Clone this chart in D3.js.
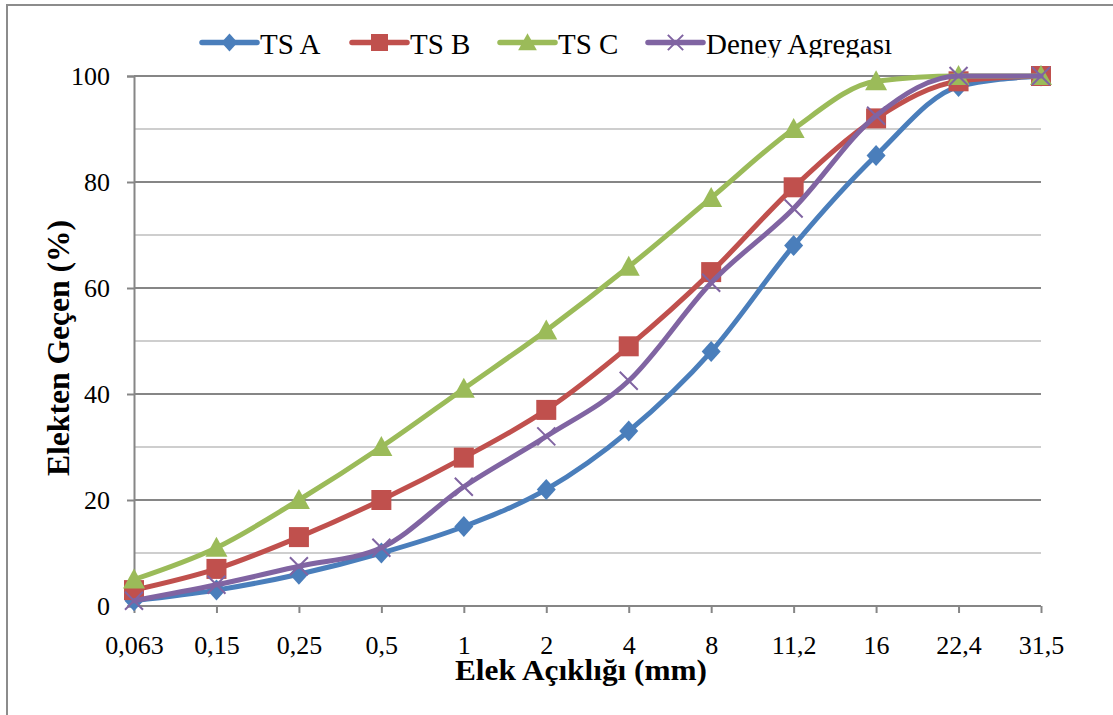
<!DOCTYPE html>
<html>
<head>
<meta charset="utf-8">
<script src="https://cdn.jsdelivr.net/npm/d3@7"></script>
<style>
  html, body { margin: 0; padding: 0; background: #fff; }
  svg { display: block; }
  text { font-family: "Liberation Serif", "Times New Roman", serif; fill: #000; }
</style>
</head>
<body>
<svg id="chart" width="1113" height="715"></svg>
<script>
// Sieve sizes (mm) and cumulative passing (%) per gradation curve
const categories = ["0,063", "0,15", "0,25", "0,5", "1", "2", "4", "8", "11,2", "16", "22,4", "31,5"];
const tsA   = [1, 3, 6, 10, 15, 22, 33, 48, 68, 85, 98, 100];
const tsB   = [3, 7, 13, 20, 28, 37, 49, 63, 79, 92, 99, 100];
const tsC   = [5, 11, 20, 30, 41, 52, 64, 77, 90, 99, 100, 100];
const deney = [1, 4, 7.5, 11, 22.5, 32, 42.5, 61, 75, 92.5, 100, 100];
const seriesNames = ["TS A", "TS B", "TS C", "Deney Agregası"];
const yTicks = [0, 20, 40, 60, 80, 100];
const yMinor = [10, 30, 50, 70, 90];

const SERIF = "'Liberation Serif', 'Times New Roman', serif";
const svg = d3.select("#chart");
const W = 1113, H = 715;
const plot = { left: 134, right: 1041, top: 76, bottom: 606 };

const colors = ["#4A7EBB", "#C0504D", "#9BBB59", "#8064A2"];
const markers = ["diamond", "square", "triangle", "cross"];
const values = [tsA, tsB, tsC, deney];

const x = d3.scalePoint().domain(categories).range([plot.left, plot.right]).padding(0);
const y = d3.scaleLinear().domain([0, 100]).range([plot.bottom, plot.top]);

// chart frame (right and bottom edges fall outside the canvas)
svg.append("rect").attr("x", 7).attr("y", 5).attr("width", W + 20).attr("height", H + 20)
  .attr("fill", "#fff").attr("stroke", "#8c8c8c").attr("stroke-width", 2);

// minor gridlines
svg.append("g").selectAll("line").data(yMinor).join("line")
  .attr("x1", plot.left).attr("x2", plot.right)
  .attr("y1", d => y(d)).attr("y2", d => y(d))
  .attr("stroke", "#bebebe").attr("stroke-width", 1.6);

// major gridlines
svg.append("g").selectAll("line").data(yTicks.filter(d => d > 0)).join("line")
  .attr("x1", plot.left).attr("x2", plot.right)
  .attr("y1", d => y(d)).attr("y2", d => y(d))
  .attr("stroke", "#868686").attr("stroke-width", 1.8);

// y axis
const yAxis = d3.axisLeft(y).tickValues(yTicks).tickSize(7).tickPadding(17).tickFormat(d3.format("d"));
const gy = svg.append("g").attr("transform", `translate(${plot.left},0)`).call(yAxis);
gy.attr("font-family", SERIF);
gy.select(".domain").attr("stroke", "#868686").attr("stroke-width", 2);
gy.selectAll(".tick line").attr("stroke", "#868686").attr("stroke-width", 2);
gy.selectAll(".tick text").attr("font-size", 26).attr("font-family", SERIF).attr("fill", "#000");

// x axis
const xAxis = d3.axisBottom(x).tickSize(7).tickPadding(23);
const gx = svg.append("g").attr("transform", `translate(0,${plot.bottom})`).call(xAxis);
gx.attr("font-family", SERIF);
gx.select(".domain").attr("stroke", "#868686").attr("stroke-width", 2)
  .attr("d", `M${plot.left},0H${plot.right}`);
gx.selectAll(".tick line").attr("stroke", "#868686").attr("stroke-width", 2);
gx.selectAll(".tick text").attr("font-size", 26).attr("font-family", SERIF).attr("fill", "#000");

// axis titles
svg.append("text")
  .attr("x", 581).attr("y", 680)
  .attr("text-anchor", "middle").attr("font-family", SERIF).attr("font-weight", "bold").attr("font-size", 29)
  .attr("textLength", 252).attr("lengthAdjust", "spacingAndGlyphs")
  .text("Elek Açıklığı (mm)");

svg.append("text")
  .attr("transform", "translate(69,348) rotate(-90)")
  .attr("text-anchor", "middle").attr("font-family", SERIF).attr("font-weight", "bold").attr("font-size", 31)
  .attr("textLength", 256).attr("lengthAdjust", "spacingAndGlyphs")
  .text("Elekten Geçen (%)");

// marker drawing
function drawMarker(g, type, color, k = 1) {
  if (type === "diamond") {
    g.append("path").attr("d", `M0,${-10.5 * k}L${9.5 * k},0L0,${10.5 * k}L${-9.5 * k},0Z`).attr("fill", color);
  } else if (type === "square") {
    g.append("rect").attr("x", -10 * k).attr("y", -10 * k).attr("width", 20 * k).attr("height", 20 * k).attr("fill", color);
  } else if (type === "triangle") {
    g.append("path").attr("d", `M0,${-11 * k}L${11 * k},${9 * k}L${-11 * k},${9 * k}Z`).attr("fill", color);
  } else {
    g.append("path").attr("d", `M${-9 * k},${-9 * k}L${9 * k},${9 * k}M${-9 * k},${9 * k}L${9 * k},${-9 * k}`)
      .attr("stroke", color).attr("stroke-width", 2).attr("fill", "none");
  }
}

const line = d3.line()
  .x((d, i) => x(categories[i]))
  .y(d => y(d))
  .curve(d3.curveMonotoneX);

values.forEach((vals, s) => {
  const g = svg.append("g");
  g.append("path").attr("d", line(vals))
    .attr("fill", "none").attr("stroke", colors[s]).attr("stroke-width", 5)
    .attr("stroke-linejoin", "round").attr("stroke-linecap", "round");
  vals.forEach((v, i) => {
    const m = g.append("g").attr("transform", `translate(${x(categories[i])},${y(v)})`);
    drawMarker(m, markers[s], colors[s]);
  });
});

// legend (its box clips the text descenders)
svg.append("clipPath").attr("id", "legendClip")
  .append("rect").attr("x", 150).attr("y", 20).attr("width", 800).attr("height", 37.5);

const legendX = [202, 352, 500, 648];
const lg = svg.append("g").attr("clip-path", "url(#legendClip)").attr("font-family", SERIF);
legendX.forEach((x0, s) => {
  lg.append("line").attr("x1", x0).attr("x2", x0 + 55).attr("y1", 42.5).attr("y2", 42.5)
    .attr("stroke", colors[s]).attr("stroke-width", 5.5).attr("stroke-linecap", "round");
  const m = lg.append("g").attr("transform", `translate(${x0 + 27.5},42.5)`);
  drawMarker(m, markers[s], colors[s], 0.85);
  lg.append("text").attr("x", x0 + 58).attr("y", 53.5)
    .attr("font-family", SERIF).attr("font-size", 29)
    .text(seriesNames[s]);
});
</script>
</body>
</html>
